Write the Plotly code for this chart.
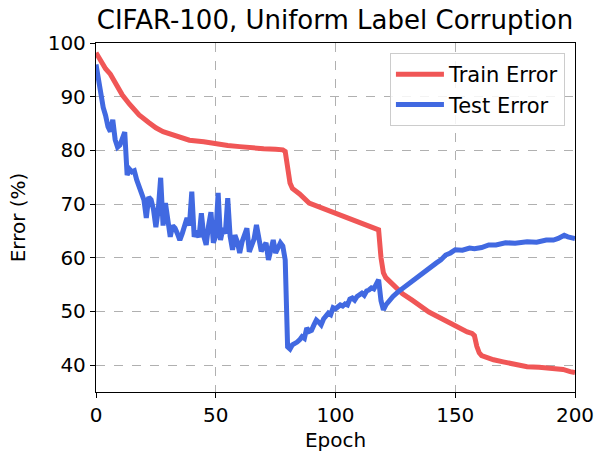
import plotly.graph_objects as go

train_epochs = [0, 2, 4, 6, 8, 11, 14, 18, 22, 25, 28, 32, 36, 39, 45, 50, 55, 60, 65, 70, 75, 78, 79, 80, 81, 82, 85, 89, 95, 100,
                107, 112, 117, 118, 119, 120, 121, 123, 125, 128, 132, 135, 139, 145, 149, 152, 155, 157, 158, 159, 160, 161,
                163, 166, 170, 175, 180, 185, 190, 195, 198, 200]
train_error = [98.2, 96.5, 95.2, 94.2, 92.6, 90.3, 88.6, 86.6, 85.2, 84.2, 83.5, 82.9, 82.3, 81.9, 81.6, 81.2, 80.9, 80.7, 80.4, 80.3,
               80.2, 80.1, 79.8, 76.0, 73.9, 72.9, 71.9, 70.2, 69.2, 68.3, 67.0, 66.3, 65.5, 65.2, 60.0, 57.2, 56.3, 55.4, 54.6,
               53.3, 52.1, 51.2, 49.9, 48.5, 47.5, 46.9, 46.2, 45.9, 45.5, 43.5, 42.3, 41.8, 41.4, 41.0, 40.6, 40.2, 39.7, 39.6,
               39.5, 39.2, 38.8, 38.6]

test_epochs = list(range(0, 123)) + [124, 126, 128, 131, 133, 135, 138, 140, 142, 144, 146, 148, 150, 153, 156, 158, 161,
                                     164, 167, 171, 175, 180, 184, 188, 191, 193, 195.5, 197, 200]
test_error = [96, 93, 90, 88, 86.5, 84.4, 83.5, 85.7, 82, 80.6, 81, 82.5, 83.4, 75.4, 76.5, 76, 76.2, 74.5, 73.2, 72.5,
              70.8, 67.4, 71.3, 70.8, 69, 65.7, 69, 74.9, 66, 70.2, 67, 63.9, 66, 65.5, 64.5, 63.3, 64.5, 66, 67.4, 66,
              72.3, 63.9, 65, 63.8, 68.3, 64, 62.4, 66, 68.5, 62.8, 64, 72.1, 63.3, 65.5, 64.5, 71.1, 64, 61.5, 64.2, 63,
              60.9, 63, 64.5, 65.5, 61.1, 62.5, 63.5, 66.1, 63, 61.2, 62, 62.8, 59.6, 62, 63.3, 60.9, 62, 62.8, 62.2, 59.6,
              43.4, 43, 43.8, 44, 44.3, 44.7, 45.3, 45, 46.9, 46.3, 46.5, 47.5, 48.4, 48, 47.5, 48.6, 49.2, 49.7, 49.4, 50.7,
              50.5, 50.9, 51.2, 51, 51.4, 51.2, 52.3, 52.5, 52.1, 52.8, 53.1, 53.4, 53, 53.8, 54, 54.4, 54.2, 55, 55.9, 52,
              50.3, 51.2, 51.8,
              52.8, 53.6, 54.3, 55.3, 55.9, 56.8, 57.6, 58.3, 59, 59.6, 60.5, 60.9, 61.5, 61.4, 61.8, 61.7, 61.9,
              62.4, 62.4, 62.8, 62.7, 63.0, 62.9, 63.3, 63.3, 63.6, 64.2, 63.9, 63.6]

x_ticks = [0, 50, 100, 150, 200]
y_ticks = [40, 50, 60, 70, 80, 90, 100]

FONT = "DejaVu Sans"
W, H = 597, 457

fig = go.Figure()
fig.add_trace(go.Scatter(x=train_epochs, y=train_error, mode="lines", name="Train Error",
                         line=dict(color="#F05656", width=5)))
fig.add_trace(go.Scatter(x=test_epochs, y=test_error, mode="lines", name="Test Error",
                         line=dict(color="#4169E1", width=5)))

axis_common = dict(showline=True, linecolor="black", linewidth=1.3, mirror=True,
                   ticks="outside", ticklen=5, tickwidth=1.2, tickcolor="black",
                   showgrid=True, gridcolor="#b0b0b0", griddash="dash", gridwidth=1.2,
                   zeroline=False, automargin=False,
                   tickfont=dict(family=FONT, size=20, color="black"))

fig.update_xaxes(range=[0, 200], tickvals=x_ticks, ticktext=[str(v) for v in x_ticks],
                 title=dict(text="Epoch", font=dict(family=FONT, size=20, color="black"), standoff=6),
                 **axis_common)
fig.update_yaxes(range=[35, 100], tickvals=y_ticks, ticktext=[str(v) for v in y_ticks],
                 title=dict(text="Error (%)", font=dict(family=FONT, size=20, color="black"), standoff=16),
                 **axis_common)

fig.update_layout(
    width=W, height=H,
    margin=dict(l=96, r=22, t=43, b=65, autoexpand=False),
    paper_bgcolor="white", plot_bgcolor="white",
    title=dict(text="CIFAR-100, Uniform Label Corruption", x=335 / W, xanchor="center",
               xref="container", yref="container", y=1 - 20 / H, yanchor="middle",
               font=dict(family=FONT, size=26, color="black")),
    legend=dict(x=0.979, y=0.971, xanchor="right", yanchor="top",
                bgcolor="rgba(255,255,255,0.85)", bordercolor="#cccccc", borderwidth=1,
                font=dict(family=FONT, size=21, color="black"), itemwidth=48,
                tracegroupgap=0),
    showlegend=True,
)

fig.write_html("out.html", config={"displayModeBar": False},
               post_script="document.body.style.margin='0';")
